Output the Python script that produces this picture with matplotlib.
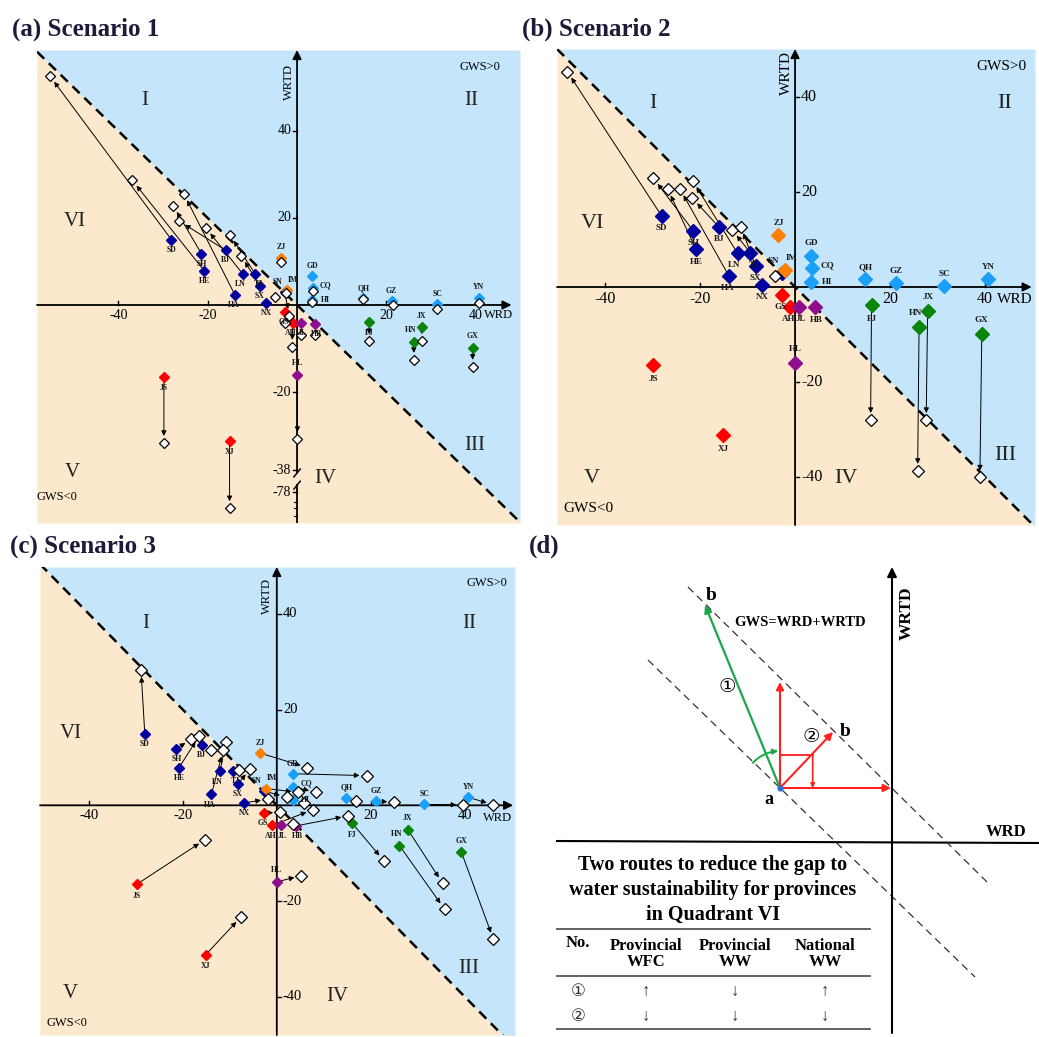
import numpy as np
import matplotlib.pyplot as plt

plt.rcParams['font.family'] = ['Liberation Serif', 'DejaVu Sans']

W, H = 1039, 1037
nan = np.nan

# provinces and their colour group
prov = ['SD', 'SH', 'HE', 'BJ', 'LN', 'TJ', 'SX', 'HA', 'NX', 'SN',
        'ZJ', 'IM', 'GD', 'CQ', 'HI', 'QH', 'GZ', 'SC', 'YN',
        'JS', 'XJ', 'GS', 'AH', 'JL', 'HB', 'HL', 'FJ', 'JX', 'HN', 'GX']
group = (['north'] * 10 + ['orange'] * 2 + ['south'] * 7 +
         ['red'] * 4 + ['purple'] * 3 + ['green'] * 4)

# baseline (coloured diamonds)
wrd0 = np.array([-28.1, -21.4, -20.8, -16.0, -12.1, -9.4, -8.3, -13.9, -6.9, -2.8,
                 -3.5, -2.2, 3.4, 3.5, 3.4, 14.8, 21.2, 31.4, 40.7,
                 -29.8, -15.1, -2.7, -1.0, 0.8, 4.1, 0.0, 16.1, 27.9, 26.1, 39.3])
wrtd0 = np.array([15.0, 11.8, 7.9, 12.6, 7.1, 7.2, 4.4, 2.3, 0.5, 3.0,
                  10.9, 3.5, 6.6, 3.9, 1.1, 1.6, 0.9, 0.2, 1.7,
                  -16.5, -31.2, -1.6, -4.2, -4.2, -4.3, -16.0, -3.8, -5.1, -8.4, -9.8])

# scenario 1
s1_wrd = np.array([-55.3, -27.7, -36.9, -26.4, -20.4, -15.0, -12.5, -25.3, -4.9, -1.7,
                   -3.5, -2.4, nan, 3.5, 3.4, 14.8, 21.4, 31.4, 40.8,
                   -29.8, -15.1, -2.7, -1.1, 0.8, 4.0, 0.1, 16.2, 27.9, 26.2, 39.3])
s1_wrtd = np.array([52.6, 22.8, 28.7, 19.3, 17.7, 16.1, 11.3, 25.5, 1.9, -2.5,
                    9.8, 2.8, nan, 3.2, 0.8, 1.3, 0.0, -0.9, 0.4,
                    -31.7, -81.7, -4.2, -9.6, -6.8, -6.9, -30.8, -8.3, -8.3, -12.6, -14.2])

# scenario 2
s2_wrd = np.array([-47.9, -29.8, -26.8, -21.6, -21.5, -13.2, -11.4, -24.2, nan, -4.2,
                   nan, nan, nan, nan, nan, nan, nan, nan, nan,
                   nan, nan, nan, nan, nan, nan, nan, 15.9, 27.6, 25.8, 38.9])
s2_wrtd = np.array([45.3, 22.9, 20.6, 18.7, 22.3, 12.0, 12.7, 20.6, nan, 2.3,
                    nan, nan, nan, nan, nan, nan, nan, nan, nan,
                    nan, nan, nan, nan, nan, nan, nan, -28.0, -28.0, -38.7, -40.1])

# scenario 3
s3_wrd = np.array([-28.9, -18.2, -16.5, -14.0, -10.8, -8.0, -5.7, -11.4, -1.9, 2.1,
                   6.5, 4.6, 19.1, 8.3, 5.7, 16.8, 25.0, 39.7, 46.1,
                   -15.3, -7.6, 0.7, 7.7, 3.5, 15.2, 5.2, 22.8, 35.3, 35.7, 46.1])
s3_wrtd = np.array([28.3, 13.8, 14.5, 11.6, 13.3, 7.3, 7.6, 11.6, 1.3, 1.7,
                    7.9, 2.7, 6.2, 2.7, 0.5, 0.8, 0.6, 0.1, 0.1,
                    -7.2, -23.3, -1.5, -0.9, -3.9, -2.2, -14.7, -11.6, -16.3, -21.7, -28.0])

# label offsets (points)
lab_dx = [0, 0, 0, 0, -2, 2, 0, -1, 0, -5, 0, 4, 0, 9, 9, 0, 0, 0, 0,
          0, 0, -1, -1, 1, 1, 0, 0, 0, -2, 0]
lab_dy = [-7, -7, -7, -7, -7, -7, -7, -7, -7, 7, 7, 7, 7, 2, 0, 7, 7, 7, 7,
          -8, -8, -7, -7, -7, -7, 8, -8, 8, 8, 8]

colors = {'north': '#0000A0', 'orange': '#FF8000', 'south': '#1AA0F8',
          'red': '#FF0000', 'purple': '#8E0E8E', 'green': '#0A850A'}
BG_BLUE = '#C5E6FA'
BG_PEACH = '#FCE8CD'
TITLE = '#1E1B3A'


def panel(ax, lim, ex, ey, c, brk=None):
    x0, x1, y0, y1 = lim
    ax.set_xlim(x0, x1)
    ax.set_ylim(y0, y1)
    ax.set_axis_off()
    xs = np.array([x0, x1])
    ax.fill_between(xs, -xs, y1, color=BG_BLUE, lw=0, zorder=0)
    ax.fill_between(xs, y0, -xs, color=BG_PEACH, lw=0, zorder=0)
    ax.plot(xs, -xs, color='k', lw=1.8, ls=(0, (4, 2.6)), zorder=1)

    fy = (lambda v: v) if brk is None else brk
    ey_d = fy(ey)

    # axes
    ap = dict(arrowstyle='-|>', color='k', lw=1.3, mutation_scale=13, shrinkA=0, shrinkB=0)
    ax.annotate('', xy=(c['xtip'], 0), xytext=(x0, 0), arrowprops=ap, zorder=2)
    if brk is None:
        ax.annotate('', xy=(0, y1), xytext=(0, y0), arrowprops=ap, zorder=2)
    else:
        ax.annotate('', xy=(0, y1), xytext=(0, -38.6), arrowprops=ap, zorder=2)
        ax.plot([0, 0], [y0, -41.4], 'k', lw=1.3, zorder=2)
        for yb in (-38.6, -41.4):
            ax.plot([-0.7, 0.7], [yb - 0.9, yb + 0.9], 'k', lw=1.1, zorder=2)
    for t in [-40, -20, 20, 40]:
        ax.plot([t, t], [0, 0.9], 'k', lw=1.0, zorder=2)
        ax.text(t, c['xlab_y'], str(t), ha='center', va='center',
                fontsize=c['tick_fs'], zorder=2)
    side = c['yside']
    for yv, yl in c['yticks']:
        ax.plot([0, 0.9 * side], [yv, yv], 'k', lw=1.0, zorder=2)
        ax.text(1.3 * side, yv, yl, ha='left' if side > 0 else 'right', va='center',
                fontsize=c['tick_fs'], zorder=2)
    for yv in c.get('minor', []):
        ax.plot([0, 0.6 * side], [yv, yv], 'k', lw=0.8, zorder=2)

    # moves
    n = len(prov)
    for i in range(n):
        if np.isnan(ex[i]):
            continue
        if np.hypot(ex[i] - wrd0[i], ey_d[i] - wrtd0[i]) > 3:
            ax.annotate('', xy=(ex[i], ey_d[i]), xytext=(wrd0[i], wrtd0[i]),
                        arrowprops=dict(arrowstyle='-|>', color='k', lw=0.7,
                                        mutation_scale=7.5, shrinkA=2, shrinkB=5),
                        zorder=3)
    for g, col in colors.items():
        idx = [i for i in range(n) if group[i] == g]
        ax.plot(wrd0[idx], wrtd0[idx], 'D', color=col, mec=col, ms=c['ms'],
                ls='none', zorder=4)
    ok = ~np.isnan(ex)
    ax.plot(ex[ok], ey_d[ok], 'D', mfc='white', mec='k', mew=0.9, ms=c['wms'],
            ls='none', zorder=5)
    k = c['lab_k']
    for i, p in enumerate(prov):
        ax.annotate(p, (wrd0[i], wrtd0[i]), xytext=(lab_dx[i] * k, lab_dy[i] * k),
                    textcoords='offset points', ha='center', va='center',
                    fontsize=c['lab_fs'], fontweight='bold', color='#1a1a1a', zorder=6)

    # region texts
    for txt, (tx, ty) in zip(['I', 'II', 'III', 'IV', 'V', 'VI'], c['roman']):
        ax.text(tx, ty, txt, ha='center', va='center', fontsize=c['roman_fs'],
                color='#222222', zorder=2)
    ax.text(*c['gp'], 'GWS>0', ha='center', va='center', fontsize=c['gws_fs'], zorder=2)
    ax.text(*c['gn'], 'GWS<0', ha='center', va='center', fontsize=c['gws_fs'], zorder=2)
    ax.text(*c['wrtd'], 'WRTD', ha='center', va='center', rotation=90,
            fontsize=c['gws_fs'], zorder=2)
    ax.text(*c['wrd'], 'WRD', ha='center', va='center', fontsize=c['gws_fs'], zorder=2)


def box(l, t, r, b):
    return [l / W, 1 - b / H, (r - l) / W, (b - t) / H]


fig = plt.figure(figsize=(W / 100, H / 100), dpi=100)

# (a) Scenario 1, broken WRTD axis below -38
ax_a = fig.add_axes(box(37, 50, 520, 523))
conf_a = dict(xtip=48.0, xlab_y=-2.4, tick_fs=10, yside=-1,
              yticks=[(20, '20'), (40, '40'), (-20, '-20'), (-38, '-38'), (-43, '-78')],
              minor=[-45.3, -46.6, -48.4],
              ms=5.2, wms=5.6, lab_k=1.05, lab_fs=5.6,
              roman=[(-34.0, 47.1), (39.1, 47.1), (39.8, -32.2), (6.3, -39.8),
                     (-50.3, -38.6), (-49.7, 19.1)], roman_fs=15,
              gp=(40.9, 54.7), gn=(-53.7, -44.2), wrtd=(-1.9, 51.3), wrd=(45.2, -2.2),
              gws_fs=9)
panel(ax_a, (-58.2, 49.9, -50.1, 58.6), s1_wrd, s1_wrtd, conf_a,
      brk=lambda v: np.where(v < -60, v + 35, v))

# (b) Scenario 2
ax_b = fig.add_axes(box(557, 49, 1035, 525))
conf_b = dict(xtip=49.8, xlab_y=-2.6, tick_fs=11.5, yside=1,
              yticks=[(20, '20'), (40, '40'), (-20, '-20'), (-40, '-40')],
              ms=7.0, wms=6.0, lab_k=1.25, lab_fs=6.5,
              roman=[(-30.0, 38.7), (44.2, 38.7), (44.2, -35.4), (10.7, -40.3),
                     (-42.8, -40.3), (-42.6, 13.3)], roman_fs=16,
              gp=(43.5, 46.4), gn=(-43.5, -46.6), wrtd=(-1.8, 45.1), wrd=(46.3, -2.6),
              gws_fs=11)
panel(ax_b, (-50.1, 50.5, -50.1, 50.1), s2_wrd, s2_wrtd, conf_b)

# (c) Scenario 3
ax_c = fig.add_axes(box(40, 567, 515, 1035))
conf_c = dict(xtip=50.3, xlab_y=-2.1, tick_fs=10.5, yside=1,
              yticks=[(20, '20'), (40, '40'), (-20, '-20'), (-40, '-40')],
              ms=5.5, wms=5.8, lab_k=1.05, lab_fs=5.6,
              roman=[(-27.8, 38.0), (41.0, 38.0), (40.8, -34.1), (12.9, -39.9),
                     (-44.0, -39.3), (-43.8, 15.0)], roman_fs=15,
              gp=(44.8, 46.5), gn=(-44.7, -45.4), wrtd=(-2.1, 43.8), wrd=(46.9, -2.6),
              gws_fs=9)
panel(ax_c, (-50.4, 50.7, -48.0, 49.8), s3_wrd, s3_wrtd, conf_c)

for txt, (px, py) in zip(['(a) Scenario 1', '(b) Scenario 2', '(c) Scenario 3', '(d)'],
                         [(12, 29), (522, 29), (10, 546), (529, 546)]):
    fig.text(px / W, 1 - py / H, txt, ha='left', va='center', fontsize=18,
             fontweight='bold', color=TITLE)

# (d) schematic, drawn in pixel units of the page
ax_d = fig.add_axes(box(530, 560, 1039, 1037))
ax_d.set_xlim(530, 1039)
ax_d.set_ylim(1037, 560)
ax_d.set_axis_off()

pa = (780, 788)
pb1 = (705, 605)
pb2 = (833, 732)
up_tip = (780, 682)
right_tip = (891, 788)
corner = (812.7, 755)
GREEN = '#19A848'
RED = '#FF2020'

ax_d.annotate('', xy=(892, 567), xytext=(892, 1033),
              arrowprops=dict(arrowstyle='-|>', color='k', lw=1.5, mutation_scale=14,
                              shrinkA=0, shrinkB=0))
ax_d.plot([557, 1039], [841, 843], 'k', lw=1.5)
ax_d.plot([688, 987], [587, 882], color='#333333', lw=0.9, ls=(0, (6, 4)))
ax_d.plot([648, 975], [660, 977], color='#333333', lw=0.9, ls=(0, (6, 4)))

sharp = dict(mutation_scale=11, shrinkA=0, shrinkB=0)
ax_d.annotate('', xy=pb1, xytext=pa,
              arrowprops=dict(arrowstyle='-|>', color=GREEN, lw=1.6, **sharp))
for tip in (up_tip, right_tip, pb2):
    ax_d.annotate('', xy=tip, xytext=pa,
                  arrowprops=dict(arrowstyle='-|>', color=RED, lw=1.5, **sharp))
ax_d.plot([pa[0], corner[0]], [corner[1], corner[1]], color=RED, lw=1.3)
ax_d.annotate('', xy=(corner[0], pa[1]), xytext=corner,
              arrowprops=dict(arrowstyle='-|>', color=RED, lw=1.2, mutation_scale=6,
                              shrinkA=0, shrinkB=0))

th = np.radians(np.linspace(137, 93, 30))
arc_x = pa[0] + 37 * np.cos(th)
arc_y = pa[1] - 37 * np.sin(th)
ax_d.plot(arc_x[:-2], arc_y[:-2], color=GREEN, lw=1.4)
ax_d.annotate('', xy=(arc_x[-1], arc_y[-1]), xytext=(arc_x[-4], arc_y[-4]),
              arrowprops=dict(arrowstyle='-|>', color=GREEN, lw=1.2, mutation_scale=8,
                              shrinkA=0, shrinkB=0))
ax_d.plot(*pa, 'o', color='#2A6FD6', ms=3.5, zorder=5)

bold = dict(fontweight='bold', ha='center', va='center')
ax_d.text(769, 800, 'a', fontsize=13, **bold)
ax_d.text(711, 596, 'b', fontsize=14, **bold)
ax_d.text(845, 731, 'b', fontsize=14, **bold)
ax_d.text(727, 687, '①', fontsize=14, ha='center', va='center')
ax_d.text(811, 738, '②', fontsize=14, ha='center', va='center')
ax_d.text(800, 622, 'GWS=WRD+WRTD', fontsize=10.5, **bold)
ax_d.text(907, 613, 'WRTD', fontsize=12.5, rotation=90, **bold)
ax_d.text(1006, 832, 'WRD', fontsize=12, **bold)

# route table
title_lines = ['Two routes to reduce the gap to', 'water sustainability for provinces',
               'in Quadrant VI']
for j, line in enumerate(title_lines):
    ax_d.text(713, 865 + 25 * j, line, fontsize=14.5, **bold)
for yr in (929, 976, 1029):
    ax_d.plot([557, 870], [yr, yr], color='#555555', lw=1.3)
col_x = [578, 646, 735, 825]
headers = ['No.', 'Provincial\nWFC', 'Provincial\nWW', 'National\nWW']
for cx, hd in zip(col_x, headers):
    ax_d.text(cx, 943 if hd == 'No.' else 954, hd, fontsize=12, linespacing=1.05, **bold)
route_no = ['①', '②']
wfc = ['↑', '↓']
prov_ww = ['↓', '↓']
nat_ww = ['↑', '↓']
for j in range(2):
    ry = 992 + 25 * j
    for cx, val in zip(col_x, [route_no[j], wfc[j], prov_ww[j], nat_ww[j]]):
        ax_d.text(cx, ry, val, fontsize=12, ha='center', va='center', color='#333333')

fig.savefig('out.png', dpi=100, facecolor='white')
